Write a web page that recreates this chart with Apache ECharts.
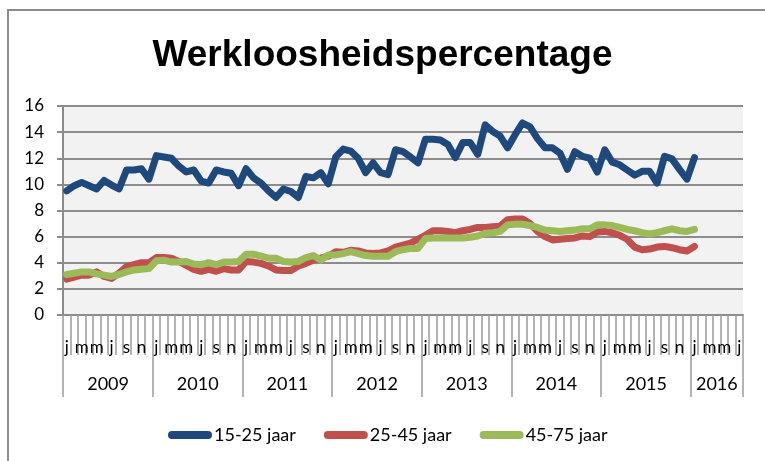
<!DOCTYPE html>
<html>
<head>
<meta charset="utf-8">
<script src="https://cdn.jsdelivr.net/npm/echarts@6/dist/echarts.min.js"></script>
<style>
    html, body { margin: 0; padding: 0; background: #fff; overflow: hidden; }
    #frame { position: absolute; left: 7px; top: 9px; width: 800px; height: 500px; border: 2px solid #8c8c8c; }
    #main { position: absolute; left: 0; top: 0; width: 765px; height: 461px; }
</style>
</head>
<body>
<div id="frame"></div>
<div id="main"></div>
<script>
// maand-letters en jaren voor de as
var maanden = ['j', 'f', 'm', 'a', 'm', 'j', 'j', 'a', 's', 'o', 'n', 'd'];
var jaren = ['2009', '2010', '2011', '2012', '2013', '2014', '2015', '2016'];
var maandenLaatsteJaar = 7; // 2016 loopt t/m juli

// werkloosheid per leeftijdsgroep, jan 2009 t/m jan 2016
var jong = [9.5, 9.9, 10.15, 9.9, 9.65, 10.3, 9.95, 9.65, 11.1, 11.1, 11.2, 10.4,
    12.2, 12.1, 12.0, 11.4, 10.95, 11.1, 10.25, 10.1, 11.1, 10.95, 10.85, 9.9,
    11.2, 10.5, 10.1, 9.5, 9.0, 9.65, 9.45, 9.0, 10.6, 10.5, 10.9, 10.05,
    12.1, 12.7, 12.55, 12.0, 10.9, 11.65, 10.9, 10.75, 12.65, 12.5, 12.1, 11.65,
    13.45, 13.45, 13.4, 13.05, 12.05, 13.2, 13.2, 12.3, 14.55, 14.05, 13.7, 12.8,
    13.8, 14.7, 14.4, 13.5, 12.8, 12.8, 12.4, 11.15, 12.5, 12.15, 12.0, 10.95,
    12.65, 11.7, 11.5, 11.1, 10.7, 11.0, 11.0, 10.1, 12.15, 11.95, 11.15, 10.4,
    12.05];
var midden = [2.75, 2.9, 3.05, 3.05, 3.3, 2.95, 2.8, 3.2, 3.7, 3.85, 4.0, 4.0,
    4.4, 4.4, 4.35, 4.1, 3.8, 3.5, 3.35, 3.5, 3.35, 3.55, 3.45, 3.45,
    4.1, 4.05, 3.95, 3.75, 3.45, 3.4, 3.4, 3.75, 3.95, 4.2, 4.35, 4.5,
    4.85, 4.8, 4.95, 4.9, 4.75, 4.7, 4.75, 4.9, 5.2, 5.35, 5.5, 5.8,
    6.1, 6.45, 6.45, 6.4, 6.3, 6.45, 6.55, 6.7, 6.7, 6.75, 6.8, 7.3,
    7.35, 7.35, 7.0, 6.4, 6.0, 5.75, 5.8, 5.85, 5.9, 6.05, 6.0, 6.35,
    6.4, 6.3, 6.1, 5.8, 5.2, 5.0, 5.05, 5.2, 5.25, 5.15, 5.0, 4.9,
    5.25];
var oud = [3.1, 3.2, 3.3, 3.3, 3.15, 3.05, 2.95, 3.1, 3.3, 3.45, 3.5, 3.55,
    4.15, 4.2, 4.05, 4.05, 4.1, 3.9, 3.85, 4.0, 3.85, 4.05, 4.05, 4.1,
    4.65, 4.65, 4.5, 4.35, 4.35, 4.1, 4.05, 4.1, 4.4, 4.55, 4.2, 4.6,
    4.6, 4.7, 4.85, 4.7, 4.55, 4.5, 4.5, 4.5, 4.85, 5.0, 5.1, 5.1,
    5.85, 5.9, 5.9, 5.9, 5.9, 5.9, 5.95, 6.05, 6.25, 6.3, 6.4, 6.9,
    6.95, 6.95, 6.85, 6.7, 6.5, 6.45, 6.4, 6.45, 6.5, 6.6, 6.6, 6.9,
    6.9, 6.85, 6.7, 6.55, 6.45, 6.3, 6.2, 6.3, 6.45, 6.6, 6.45, 6.4,
    6.55];

var fontNaam = 'Lato';

// categorieen opbouwen: jaar-maand
var cats = [];
for (var y = 0; y < jaren.length; y++) {
    var n = (y == jaren.length - 1) ? maandenLaatsteJaar : 12;
    for (var m = 0; m < n; m++) {
        cats.push(jaren[y] + '-' + (m + 1));
    }
}

var myChart = echarts.init(document.getElementById('main'));
var option = {
    animation: false,
    title: {
        text: 'Werkloosheidspercentage',
        left: 'center',
        top: 32,
        textStyle: {
            fontFamily: 'Liberation Sans',
            fontWeight: 'bold',
            fontSize: 37,
            color: '#000'
        }
    },
    legend: {
        top: 421,
        left: 163,
        itemWidth: 44,
        itemHeight: 8,
        itemGap: 28,
        icon: 'path://M4,0 H40 A4,4 0 0 1 40,8 H4 A4,4 0 0 1 4,0 Z',
        textStyle: { fontFamily: fontNaam, fontSize: 18, color: '#000', padding: [0, 0, 0, -3] },
        data: ['15-25 jaar', '25-45 jaar', '45-75 jaar']
    },
    grid: {
        left: 63,
        right: 22,
        top: 106,
        bottom: 146,
        show: true,
        backgroundColor: '#f2f2f2',
        borderWidth: 0
    },
    xAxis: [{
        type: 'category',
        data: cats,
        boundaryGap: true,
        axisLine: { lineStyle: { color: '#8c8c8c', width: 2 } },
        axisTick: { show: true, interval: 0, length: 40, lineStyle: { color: '#9a9a9a', width: 1.5 } },
        axisLabel: {
            interval: 1,
            margin: 24,
            fontFamily: fontNaam,
            fontSize: 17,
            color: '#000',
            formatter: function (value, index) {
                return maanden[index % 12];
            }
        },
        splitLine: { show: false }
    }, {
        type: 'category',
        data: cats,
        boundaryGap: true,
        position: 'bottom',
        axisLine: { show: false },
        axisTick: {
            show: true,
            length: 82,
            interval: function (index) { return index % 12 == 0; },
            lineStyle: { color: '#9a9a9a', width: 1.5 }
        },
        axisLabel: {
            margin: 60,
            interval: function (index) {
                var jr = Math.floor(index / 12);
                if (jr == jaren.length - 1) return index == jr * 12 + Math.floor(maandenLaatsteJaar / 2);
                return index % 12 == 6;
            },
            formatter: function (value, index) {
                var jr = Math.floor(index / 12);
                if (jr == jaren.length - 1) return '{z|' + jaren[jr] + '}';
                return '{y|' + jaren[jr] + '}';
            },
            rich: {
                y: { fontFamily: fontNaam, fontSize: 18, color: '#000', padding: [0, 7, 0, 0] },
                z: { fontFamily: fontNaam, fontSize: 18, color: '#000' }
            }
        },
        splitLine: { show: false }
    }],
    yAxis: {
        type: 'value',
        min: 0,
        max: 16,
        interval: 2,
        axisLine: { show: true, lineStyle: { color: '#8c8c8c', width: 2 } },
        axisTick: { show: true, length: 6, lineStyle: { color: '#8c8c8c', width: 2 } },
        axisLabel: { margin: 19, fontFamily: fontNaam, fontSize: 17, color: '#000' },
        splitLine: { lineStyle: { color: '#8c8c8c', width: 2 } }
    },
    series: [{
        name: '15-25 jaar',
        type: 'line',
        data: jong,
        symbol: 'none',
        color: '#1f497d',
        lineStyle: { width: 7, cap: 'round', join: 'round' }
    }, {
        name: '25-45 jaar',
        type: 'line',
        data: midden,
        symbol: 'none',
        color: '#c0504d',
        lineStyle: { width: 7, cap: 'round', join: 'round' }
    }, {
        name: '45-75 jaar',
        type: 'line',
        data: oud,
        symbol: 'none',
        color: '#9bbb59',
        lineStyle: { width: 7, cap: 'round', join: 'round' }
    }]
};
myChart.setOption(option);
</script>
</body>
</html>
